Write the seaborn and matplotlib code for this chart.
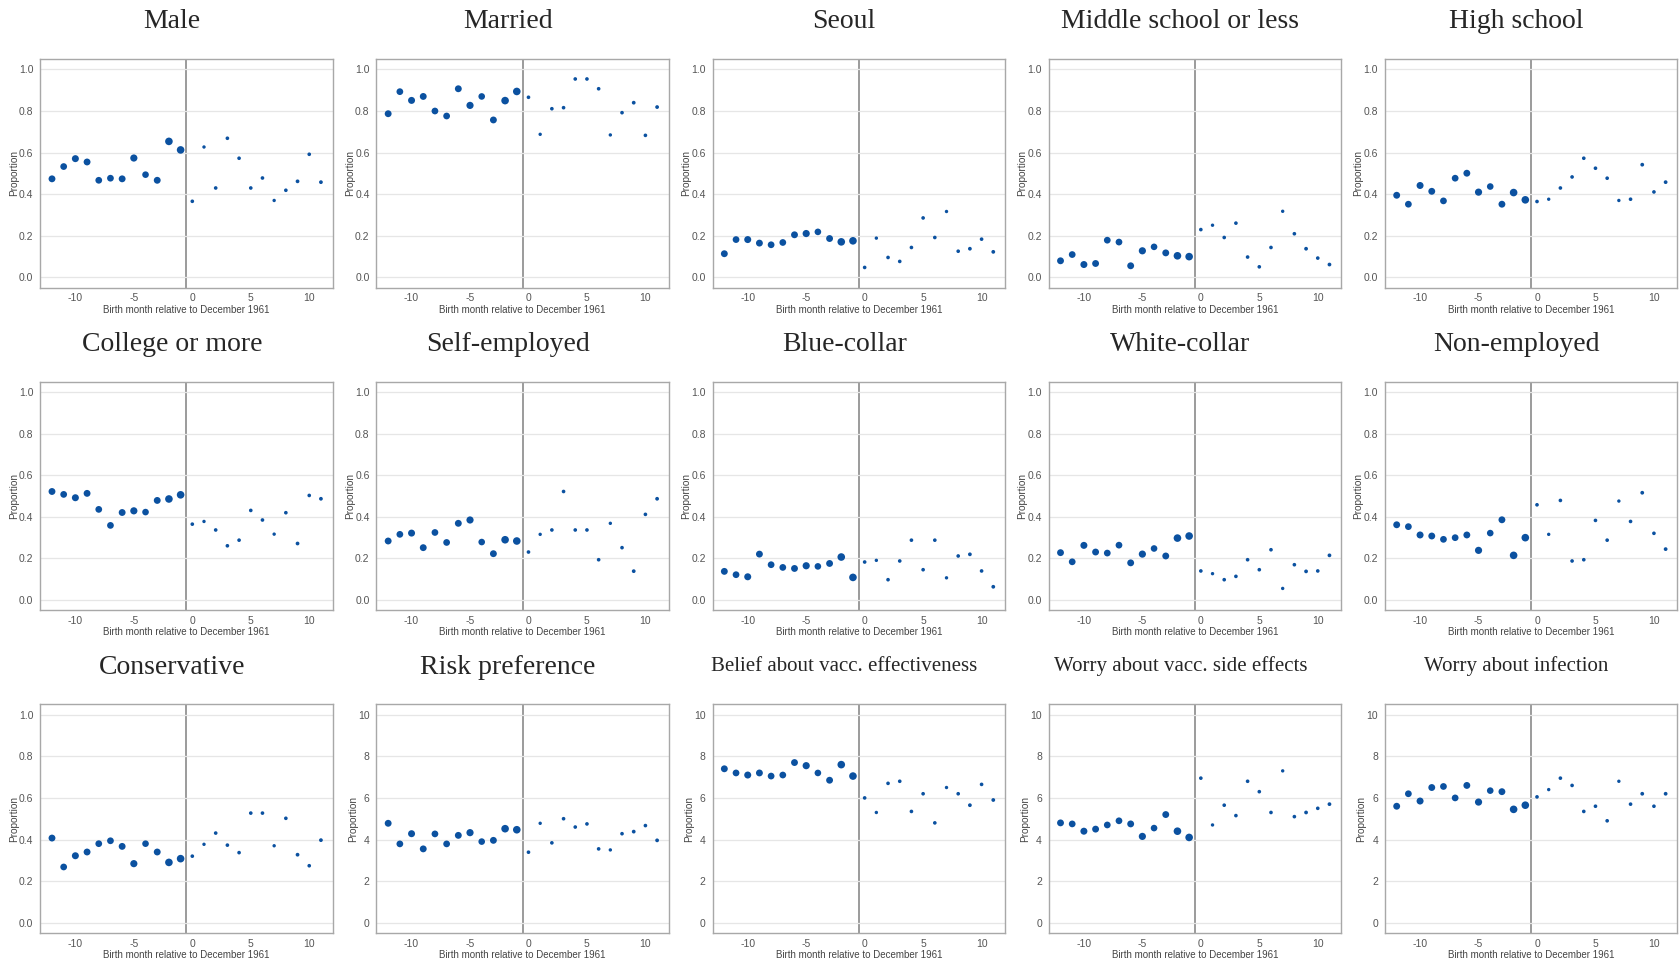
import numpy as np
import pandas as pd
import matplotlib.pyplot as plt
import seaborn as sns

months = list(range(-12, 12))
# respondents per birth month (drives point size)
n_obs = [50, 48, 52, 50, 48, 48, 50, 55, 46, 50, 62, 62,
         12, 10, 12, 12, 12, 12, 12, 10, 12, 13, 12, 13]

titles = ['Male', 'Married', 'Seoul', 'Middle school or less', 'High school',
          'College or more', 'Self-employed', 'Blue-collar', 'White-collar', 'Non-employed',
          'Conservative', 'Risk preference', 'Belief about vacc. effectiveness',
          'Worry about vacc. side effects', 'Worry about infection']

male = [0.474, 0.533, 0.571, 0.555, 0.467, 0.477, 0.474, 0.574, 0.494, 0.467, 0.654, 0.613,
        0.366, 0.627, 0.430, 0.669, 0.573, 0.430, 0.478, 0.370, 0.419, 0.462, 0.592, 0.458]
married = [0.787, 0.893, 0.851, 0.870, 0.800, 0.776, 0.907, 0.827, 0.870, 0.757, 0.850, 0.894,
           0.866, 0.688, 0.811, 0.816, 0.954, 0.954, 0.907, 0.685, 0.792, 0.840, 0.683, 0.819]
seoul = [0.114, 0.182, 0.182, 0.165, 0.157, 0.168, 0.205, 0.211, 0.219, 0.187, 0.171, 0.176,
         0.048, 0.189, 0.096, 0.077, 0.144, 0.286, 0.192, 0.317, 0.126, 0.138, 0.184, 0.123]
middle = [0.080, 0.110, 0.062, 0.067, 0.179, 0.170, 0.056, 0.128, 0.147, 0.118, 0.104, 0.100,
          0.230, 0.251, 0.192, 0.261, 0.098, 0.051, 0.144, 0.318, 0.210, 0.138, 0.093, 0.062]
high = [0.395, 0.352, 0.442, 0.414, 0.368, 0.477, 0.501, 0.410, 0.437, 0.352, 0.408, 0.373,
        0.365, 0.376, 0.430, 0.483, 0.573, 0.525, 0.477, 0.370, 0.376, 0.542, 0.411, 0.458]
college = [0.522, 0.508, 0.492, 0.513, 0.436, 0.359, 0.421, 0.429, 0.423, 0.479, 0.486, 0.506,
           0.365, 0.378, 0.337, 0.261, 0.288, 0.431, 0.385, 0.317, 0.420, 0.272, 0.503, 0.487]
self_emp = [0.284, 0.316, 0.322, 0.252, 0.325, 0.277, 0.369, 0.385, 0.279, 0.223, 0.290, 0.284,
            0.231, 0.316, 0.337, 0.522, 0.337, 0.337, 0.194, 0.369, 0.252, 0.139, 0.412, 0.487]
blue = [0.138, 0.122, 0.112, 0.221, 0.170, 0.157, 0.152, 0.165, 0.162, 0.176, 0.207, 0.109,
        0.183, 0.191, 0.098, 0.188, 0.288, 0.146, 0.288, 0.107, 0.212, 0.220, 0.140, 0.064]
white = [0.228, 0.184, 0.263, 0.231, 0.226, 0.264, 0.179, 0.221, 0.248, 0.212, 0.298, 0.308,
         0.140, 0.127, 0.098, 0.114, 0.194, 0.146, 0.242, 0.056, 0.170, 0.138, 0.140, 0.215]
non_emp = [0.362, 0.353, 0.313, 0.308, 0.292, 0.300, 0.313, 0.239, 0.322, 0.386, 0.215, 0.300,
           0.458, 0.316, 0.479, 0.188, 0.194, 0.383, 0.288, 0.476, 0.378, 0.516, 0.321, 0.245]
conservative = [0.407, 0.268, 0.322, 0.340, 0.380, 0.394, 0.367, 0.284, 0.380, 0.340, 0.290, 0.308,
                0.320, 0.377, 0.431, 0.373, 0.337, 0.527, 0.527, 0.370, 0.502, 0.327, 0.274, 0.397]
risk = [4.78, 3.79, 4.28, 3.55, 4.27, 3.79, 4.20, 4.33, 3.90, 3.96, 4.52, 4.47,
        3.39, 4.78, 3.84, 5.00, 4.60, 4.75, 3.55, 3.50, 4.28, 4.38, 4.67, 3.96]
belief = [7.40, 7.20, 7.10, 7.20, 7.05, 7.10, 7.70, 7.55, 7.20, 6.85, 7.60, 7.05,
          6.00, 5.30, 6.70, 6.80, 5.35, 6.20, 4.80, 6.50, 6.20, 5.65, 6.65, 5.90]
worry_side = [4.80, 4.75, 4.40, 4.50, 4.70, 4.90, 4.75, 4.15, 4.55, 5.20, 4.40, 4.10,
              6.95, 4.70, 5.65, 5.15, 6.80, 6.30, 5.30, 7.30, 5.10, 5.30, 5.50, 5.70]
worry_inf = [5.60, 6.20, 5.85, 6.50, 6.55, 6.00, 6.60, 5.80, 6.35, 6.30, 5.45, 5.65,
             6.05, 6.40, 6.95, 6.60, 5.35, 5.60, 4.90, 6.80, 5.70, 6.20, 5.60, 6.20]

series = [male, married, seoul, middle, high, college, self_emp, blue, white, non_emp,
          conservative, risk, belief, worry_side, worry_inf]

sns.set_style('whitegrid')
plt.rcParams['font.family'] = ['Liberation Sans', 'DejaVu Sans']
plt.rcParams['axes.unicode_minus'] = False

fig, axes = plt.subplots(3, 5, figsize=(16.79, 9.61), dpi=100)
fig.subplots_adjust(left=0.024, right=0.999, top=0.9386, bottom=0.029, wspace=0.15, hspace=0.41)

for i, ax in enumerate(axes.flat):
    df = pd.DataFrame({'month': months, 'value': series[i], 'n': n_obs})
    sns.scatterplot(data=df, x='month', y='value', size='n', sizes=(6, 30),
                    color='#0b51a0', edgecolor='none', legend=False, ax=ax)
    ax.axvline(-0.5, color='#8a8a8a', lw=1.2, zorder=0)
    ax.set_xlim(-13, 12)
    ax.set_xticks([-10, -5, 0, 5, 10])
    if i in (11, 12, 13, 14):
        ax.set_ylim(-0.5, 10.5)
        ax.set_yticks([0, 2, 4, 6, 8, 10])
    else:
        ax.set_ylim(-0.05, 1.05)
        ax.set_yticks([0.0, 0.2, 0.4, 0.6, 0.8, 1.0])
        ax.set_yticklabels(['0.0', '0.2', '0.4', '0.6', '0.8', '1.0'])
    ax.grid(axis='x', visible=False)
    ax.grid(axis='y', color='#e6e6e6', lw=0.9)
    for sp in ax.spines.values():
        sp.set_color('#a8a8a8')
        sp.set_linewidth(1.0)
    ax.tick_params(axis='x', labelsize=7.5, colors='#555555', pad=0.5)
    ax.tick_params(axis='y', labelsize=7.5, colors='#555555', pad=1.5)
    ax.set_xlabel('Birth month relative to December 1961', fontsize=7, color='#444444', labelpad=1)
    ax.set_ylabel('Proportion', fontsize=7.2, color='#444444', labelpad=0)
    fs = 15 if i >= 12 else 20
    ax.set_title(titles[i], fontsize=fs, family=['Liberation Serif', 'DejaVu Serif'],
                 x=0.45, pad=22 if i < 12 else 24)

plt.savefig('out.png', dpi=100)
